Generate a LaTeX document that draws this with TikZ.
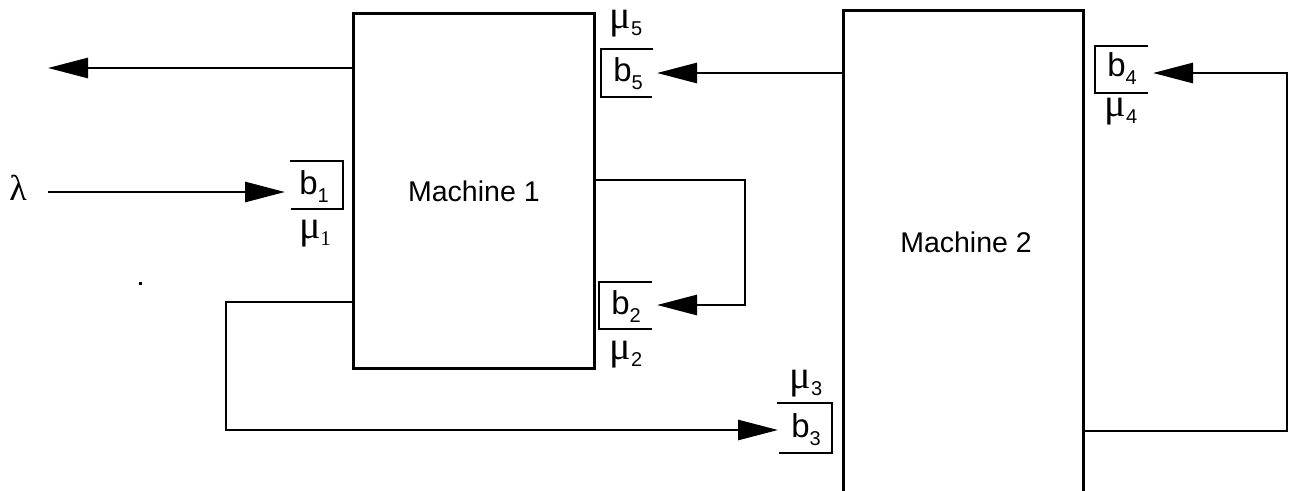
\documentclass[tikz,border=0pt]{standalone}
\usepackage{fontspec}
\setmainfont{Liberation Sans}
\newfontfamily\grk{Liberation Serif}
\usetikzlibrary{arrows.meta}
\newcommand\bl[1]{\fontsize{33}{35}\selectfont b\raisebox{-8pt}{\fontsize{20}{20}\selectfont #1}}
\newcommand\mul[1]{{\grk\fontsize{40}{42}\selectfont μ}\raisebox{-7pt}{\fontsize{20}{20}\selectfont #1}}
\newcommand\mulserif[1]{{\grk\fontsize{40}{42}\selectfont μ\raisebox{-7pt}{\fontsize{21}{21}\selectfont #1}}}
\begin{document}
\begin{tikzpicture}[x=1pt,y=-1pt,line width=2.8pt,
  conn/.style={-{Triangle[length=40pt,width=20pt]}},
  machine/.style={draw,anchor=north west,inner sep=0pt,font=\fontsize{28.5}{32}\selectfont},
  buf/.style={line cap=butt},
  lbl/.style={inner sep=0pt}]
\useasboundingbox (0,0) rectangle (1289,490);
\clip (0,0) rectangle (1289,490);
% machines
\node[machine,minimum width=241pt,minimum height=355pt] (m1) at (352,12) {Machine 1};
\node[machine,minimum width=240pt,minimum height=520pt] (m2) at (842,9) {};
\node[lbl,font=\fontsize{28.5}{32}\selectfont] (m2l) at (966,242) {Machine 2};
% buffers
\draw[buf] (290,161) -- (343,161) -- (343,209) -- (291,209);
\node[lbl] (b1) at (314,187) {\bl1};
\node[lbl] (mu1) at (315,234) {\mulserif1};
\draw[buf] (653,49) -- (601,49) -- (601,97) -- (652,97);
\node[lbl] (b5) at (628,74) {\bl5};
\node[lbl] (mu5) at (626,24) {\mul5};
\draw[buf] (652,282) -- (599,282) -- (599,329) -- (652,329);
\node[lbl] (b2) at (626,307) {\bl2};
\node[lbl] (mu2) at (626,355) {\mul2};
\draw[buf] (777,403) -- (832,403) -- (832,453) -- (779,453);
\node[lbl] (b3) at (806,430) {\bl3};
\node[lbl] (mu3) at (806,384) {\mul3};
\draw[buf] (1148,46) -- (1095,46) -- (1095,93) -- (1148,93);
\node[lbl] (b4) at (1122,69) {\bl4};
\node[lbl] (mu4) at (1121,112) {\mul4};
% lambda
\node[lbl,font=\grk\fontsize{36}{38}\selectfont] (lam) at (18,188) {λ};
% connector end points
\coordinate (outend) at (48,68);
\coordinate (in1start) at (48,192);
\coordinate (b1tip) at (285,192);
\coordinate (b5tip) at (657,73);
\coordinate (b2tip) at (657,305);
\coordinate (b3tip) at (778,430);
\coordinate (b4tip) at (1153,73);
\coordinate (c2) at (745,180);
\coordinate (c3) at (226,302);
\coordinate (c4) at (1287,431);
% connectors
\draw[conn] (m1.west |- outend) -- (outend);
\draw[conn] (in1start) -- (b1tip);
\draw[conn] (m2.west |- b5tip) -- (b5tip);
\draw[conn] (m1.east |- c2) -- (c2) |- (b2tip);
\draw[conn] (m1.west |- c3) -- (c3) |- (b3tip);
\draw[conn] (m2.east |- c4) -- (c4) |- (b4tip);
% stray dot
\fill (139,282) rectangle (142,285);
\end{tikzpicture}
\end{document}
